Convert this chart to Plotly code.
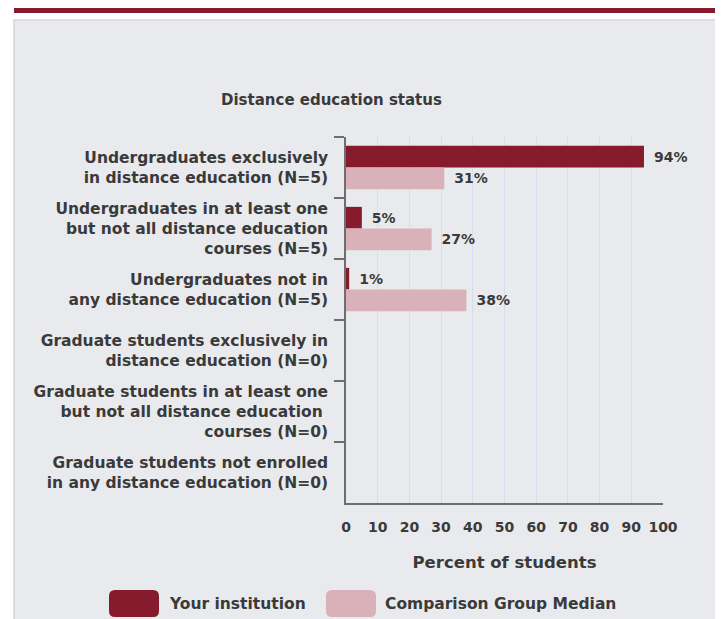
import plotly.graph_objects as go

# ---- data ----
categories = [
    "Undergraduates exclusively<br>in distance education (N=5)",
    "Undergraduates in at least one<br>but not all distance education<br>courses (N=5)",
    "Undergraduates not in<br>any distance education (N=5)",
    "Graduate students exclusively in<br>distance education (N=0)",
    "Graduate students in at least one<br>but not all distance education\u00a0<br>courses (N=0)",
    "Graduate students not enrolled<br>in any distance education (N=0)",
]
your_institution = [94, 5, 1, None, None, None]
comparison_median = [31, 27, 38, None, None, None]
series_names = ["Your institution", "Comparison Group Median"]
x_ticks = [0, 10, 20, 30, 40, 50, 60, 70, 80, 90, 100]

# ---- style ----
OFF = 8  # page body margin offset
W, H = 723 - OFF, 619 - OFF
ML, MR, MT, MB = 346 - OFF, 60, 137 - OFF, 116
PW, PH = W - ML - MR, H - MT - MB
MAROON = "#861B2D"
PINK = "#D9B2B9"
TXT = "#3A3A3A"
FONT = "DejaVu Sans"


def px(x, y):
    # reference-page pixel -> paper coords
    x, y = x - OFF, y - OFF
    return (x - ML) / PW, (H - MB - y) / PH


def rect(x0, y0, x1, y1, fill, line="rgba(0,0,0,0)", lw=0):
    a, b = px(x0, y1)
    c, d = px(x1, y0)
    return dict(type="rect", xref="paper", yref="paper", x0=a, y0=b, x1=c, y1=d,
                fillcolor=fill, line=dict(color=line, width=lw), layer="below")


def rrect(x0, y0, x1, y1, r, fill):
    def p(x, y):
        a, b = px(x, y)
        return f"{a:.5f},{b:.5f}"
    path = (f"M{p(x0 + r, y0)} L{p(x1 - r, y0)} Q{p(x1, y0)} {p(x1, y0 + r)} "
            f"L{p(x1, y1 - r)} Q{p(x1, y1)} {p(x1 - r, y1)} L{p(x0 + r, y1)} "
            f"Q{p(x0, y1)} {p(x0, y1 - r)} L{p(x0, y0 + r)} Q{p(x0, y0)} {p(x0 + r, y0)} Z")
    return dict(type="path", xref="paper", yref="paper", path=path,
                fillcolor=fill, line=dict(width=0), layer="above")


label_font = dict(family=FONT, size=14, color=TXT, weight="bold")
legend_font = dict(family=FONT, size=15.5, color=TXT, weight="bold")

fig = go.Figure()
fig.add_trace(go.Bar(
    y=categories, x=your_institution, orientation="h", name=series_names[0],
    marker=dict(color=MAROON, line=dict(width=0)),
    texttemplate="\u2002%{x}%", textposition="outside",
    textfont=label_font, cliponaxis=False, showlegend=False,
))
fig.add_trace(go.Bar(
    y=categories, x=comparison_median, orientation="h", name=series_names[1],
    marker=dict(color=PINK, line=dict(width=0)),
    texttemplate="\u2002%{x}%", textposition="outside",
    textfont=label_font, cliponaxis=False, showlegend=False,
))

shapes = [
    rect(14, 20, 719, 640, "#E9EAEE", "#D6D6D6", 1.5),
    rect(14, 8, 716, 13, MAROON),
    rrect(109, 590, 159, 617, 6, MAROON),
    rrect(326, 590, 376, 617, 6, PINK),
]

annotations = [
    dict(text="Distance education status", xref="paper", yref="paper",
         x=px(331, 0)[0], y=px(0, 100)[1], xanchor="center", yanchor="middle",
         showarrow=False, font=dict(family=FONT, size=15, color=TXT, weight="bold")),
    dict(text=series_names[0], xref="paper", yref="paper",
         x=px(167, 0)[0], y=px(0, 604)[1], xanchor="left", yanchor="middle",
         showarrow=False, font=legend_font),
    dict(text=series_names[1], xref="paper", yref="paper",
         x=px(383, 0)[0], y=px(0, 604)[1], xanchor="left", yanchor="middle",
         showarrow=False, font=legend_font),
]

fig.update_layout(
    width=W, height=H,
    margin=dict(l=ML, r=MR, t=MT, b=MB, pad=0),
    paper_bgcolor="white", plot_bgcolor="#F5F5F6",
    barmode="group", bargap=0.29, bargroupgap=0,
    shapes=shapes, annotations=annotations,
    font=dict(family=FONT, color=TXT),
    xaxis=dict(
        range=[0, 100], tickvals=x_ticks, ticktext=[str(v) for v in x_ticks],
        showgrid=True, gridcolor="#D6DEEE", gridwidth=1,
        showline=True, linecolor="#6E6E6E", linewidth=1.5,
        ticks="", ticklabelstandoff=10, zeroline=False,
        tickfont=label_font,
        title=dict(text="Percent of students", standoff=23,
                   font=dict(family=FONT, size=16.5, color=TXT, weight="bold")),
        fixedrange=True,
    ),
    yaxis=dict(
        autorange="reversed", type="category",
        showline=True, linecolor="#6E6E6E", linewidth=1.5,
        ticks="outside", tickson="boundaries", ticklen=10, tickcolor="#6E6E6E",
        tickwidth=1.5, ticklabelstandoff=13,
        showgrid=False,
        tickfont=dict(family=FONT, size=15.5, color=TXT, weight="bold"),
        fixedrange=True,
    ),
)

fig.write_html("out.html")
